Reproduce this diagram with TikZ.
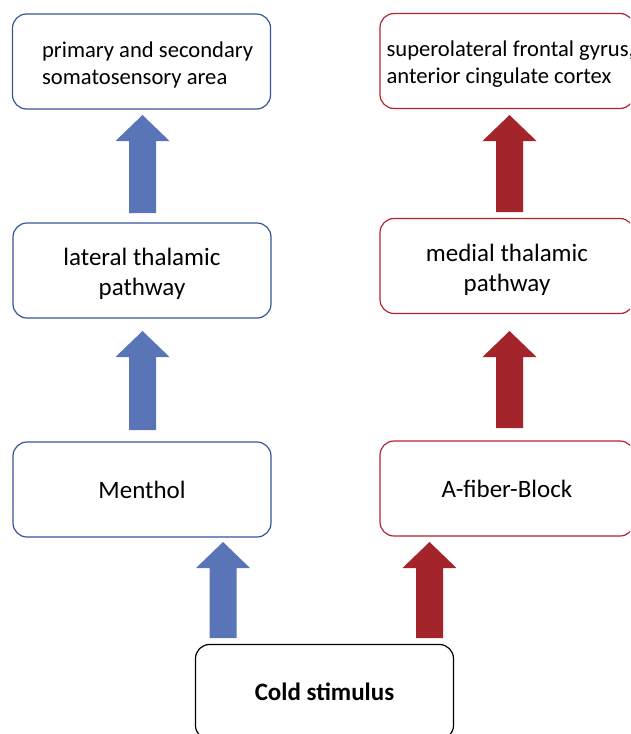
\documentclass[tikz,border=0pt]{standalone}
\usepackage{fontspec}
\setmainfont{Carlito}
\definecolor{bluearrow}{RGB}{90,116,184}
\definecolor{blueline}{RGB}{52,86,150}
\definecolor{redarrow}{RGB}{163,36,43}
\definecolor{redline}{RGB}{180,36,42}
\tikzset{
  box/.style={draw, rounded corners=14pt, line width=1.2pt, minimum width=258pt, minimum height=95pt, inner sep=0pt, align=center, font=\fontsize{25}{30}\selectfont},
  bluebox/.style={box, draw=blueline},
  redbox/.style={box, draw=redline},
  blackbox/.style={box, draw=black},
  toptext/.style={anchor=west, inner sep=0pt, align=left, font=\fontsize{22.6}{27}\selectfont},
  midtext/.style={inner sep=0pt, align=center, font=\fontsize{25}{30}\selectfont},
  pics/uparrow/.style={code={
    \fill[pic actions] (-13.5,0) -- (-13.5,-#1+26) -- (-27,-#1+26) -- (0,-#1) -- (27,-#1+26) -- (13.5,-#1+26) -- (13.5,0) -- cycle;}}
}
\begin{document}
\begin{tikzpicture}[x=1pt,y=-1pt]
\useasboundingbox (0,0) rectangle (630,734);
\clip (0,0) rectangle (630,734);
% left column
\node[bluebox] (prim) at (141.5,61.5) {};
\node[toptext] (primtext) at ([xshift=30pt,yshift=-3pt]prim.west) {primary and secondary\\somatosensory area};
\node[bluebox] (lat) at (142,270.5) {};
\node[midtext] (lattext) at ([yshift=-3.5pt]lat.center) {lateral thalamic\\pathway};
\node[bluebox] (menthol) at (142,489.5) {Menthol};
% right column
\node[redbox, minimum width=254pt] (sup) at (507,61) {};
\node[toptext] (suptext) at ([xshift=7pt,yshift=-3pt]sup.west) {superolateral frontal gyrus,\\anterior cingulate cortex};
\node[redbox, minimum width=254pt] (med) at (507,266) {};
\node[midtext] (medtext) at ([yshift=-3.5pt]med.center) {medial thalamic\\pathway};
\node[redbox, minimum width=254pt] (afib) at (507,488.5) {A-fiber-Block};
% bottom
\node[blackbox, font=\fontsize{25}{30}\selectfont\bfseries] (cold) at (324.5,692) {Cold stimulus};
% arrows
\coordinate (b1) at (142.5,213);
\coordinate (b2) at (142.5,430);
\coordinate (b3) at (223,638);
\coordinate (r1) at (509.5,212);
\coordinate (r2) at (509.5,428);
\coordinate (r3) at (429.5,638);
\pic[fill=bluearrow] at (b1) {uparrow=98};
\pic[fill=bluearrow] at (b2) {uparrow=99};
\pic[fill=bluearrow] at (b3) {uparrow=96};
\pic[fill=redarrow] at (r1) {uparrow=97};
\pic[fill=redarrow] at (r2) {uparrow=97};
\pic[fill=redarrow] at (r3) {uparrow=96};
\end{tikzpicture}
\end{document}
